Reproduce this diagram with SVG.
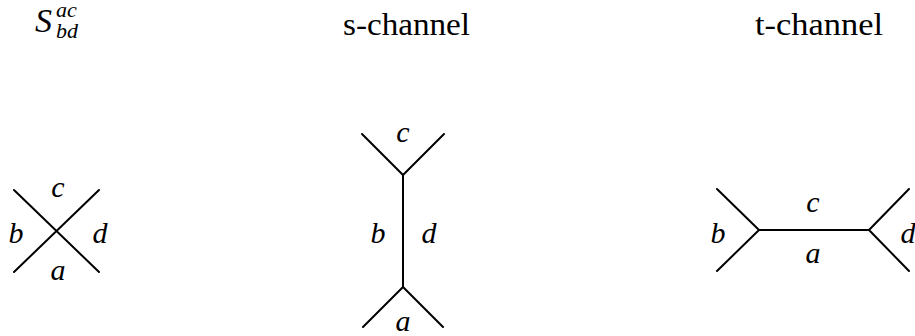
<svg xmlns="http://www.w3.org/2000/svg" width="915" height="336" viewBox="0 0 915 336">
<style>
  .ln { stroke: #000; stroke-width: 2; fill: none; stroke-linecap: round; stroke-linejoin: round; }
  .m { font-family: "Liberation Serif", "Times New Roman", serif; font-style: italic; font-size: 30px; fill: #000; text-anchor: middle; }
  .t { font-family: "Liberation Serif", "Times New Roman", serif; font-size: 32px; fill: #000; }
  .sm { font-family: "Liberation Serif", "Times New Roman", serif; font-style: italic; font-size: 22px; fill: #000; }
</style>
<rect width="915" height="336" fill="#fff"/>
<g id="titles">
  <g id="title-S">
    <text x="35" y="32" style="font-family:'Liberation Serif',serif;font-style:italic;font-size:34px">S</text>
    <text class="sm" x="56" y="17">ac</text>
    <text class="sm" x="56" y="38">bd</text>
  </g>
  <text id="title-s" class="t" x="343" y="35" textLength="127" lengthAdjust="spacingAndGlyphs">s-channel</text>
  <text id="title-t" class="t" x="755" y="35" textLength="128" lengthAdjust="spacingAndGlyphs">t-channel</text>
</g>
<g id="connectors">
  <path class="ln" d="M14,190 L99,272 M99,190 L14,272"/>
  <path class="ln" d="M362,134 L403,175 L444,134 M403,175 L403,287 M363,327 L403,287 L443,327"/>
  <path class="ln" d="M717,189 L759,230 L717,271 M759,230 L869,230 M909,189 L869,230 L909,271"/>
</g>
<g id="cross">
  <text class="m" x="58" y="197">c</text>
  <text class="m" x="16" y="243">b</text>
  <text class="m" x="100" y="243">d</text>
  <text class="m" x="58" y="280">a</text>
</g>
<g id="s-channel">
  <text class="m" x="403" y="142">c</text>
  <text class="m" x="378" y="243">b</text>
  <text class="m" x="429" y="243">d</text>
  <text class="m" x="403" y="331">a</text>
</g>
<g id="t-channel">
  <text class="m" x="718" y="243">b</text>
  <text class="m" x="813" y="212">c</text>
  <text class="m" x="908" y="243">d</text>
  <text class="m" x="813" y="263">a</text>
</g>
</svg>
